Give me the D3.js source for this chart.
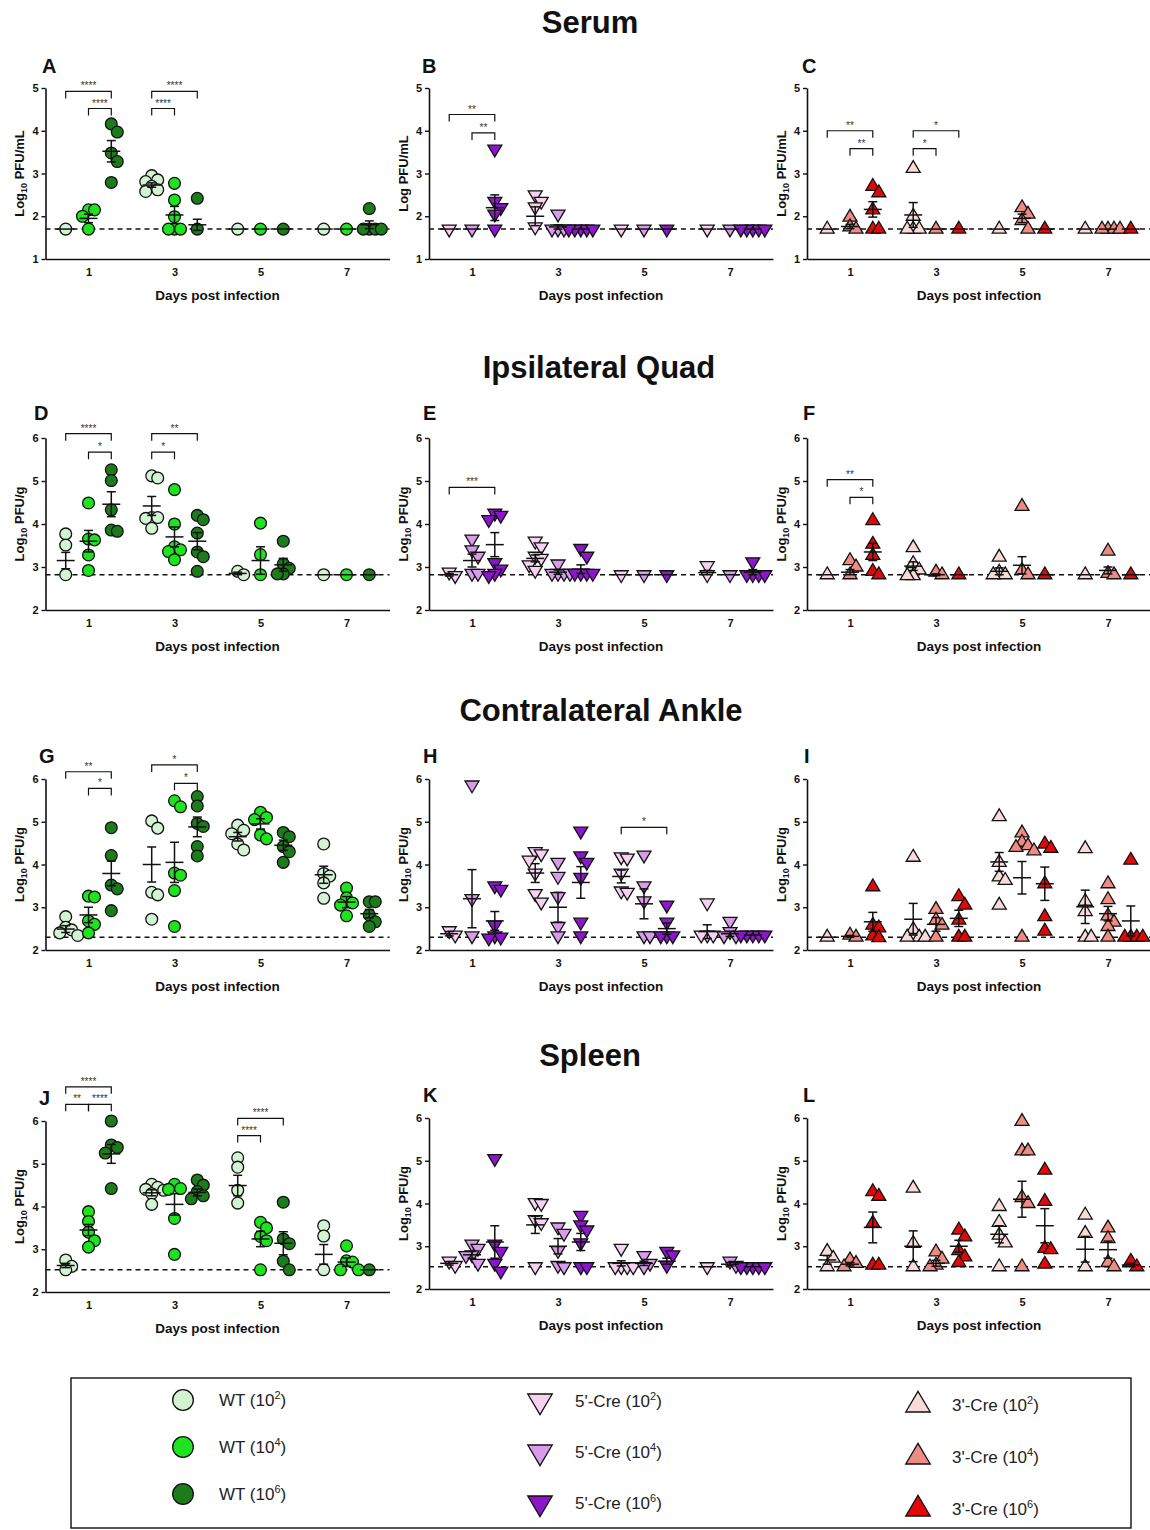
<!DOCTYPE html>
<html>
<head>
<meta charset="utf-8">
<script src="https://cdn.jsdelivr.net/npm/d3@7"></script>
<style>
  body { margin: 0; background: #fff; }
  svg { display: block; font-family: "Liberation Sans", Arial, sans-serif; }
</style>
</head>
<body>
<div id="chart"></div>
<script>
// ---- shared categories ----
const dayTicks = [1, 3, 5, 7];
const doseShift = [-0.53, 0, 0.53];
const doseExp = ["2", "4", "6"];
const wtColors = ["#d3f4d3", "#1fe31f", "#1c7c1c"];
const cre5Colors = ["#f7d2f0", "#d89ceb", "#8c16c9"];
const cre3Colors = ["#f9dada", "#f08b84", "#e00808"];
const sectionTitles = ["Serum", "Ipsilateral Quad", "Contralateral Ankle", "Spleen"];
const lodByRow = [1.7, 2.82, 2.3, 2.52];

// ---- data: each panel = 12 groups (day 1,3,5,7 x dose 10^2,10^4,10^6) ----
// Serum
const ptsA = [[1.7], [2.15, 2.15, 2.0, 1.7], [4.16, 3.97, 3.48, 3.28, 2.79],
  [2.95, 2.85, 2.81, 2.7, 2.62, 2.58], [2.77, 2.38, 1.99, 1.7, 1.7, 1.7], [2.42, 1.7],
  [1.7], [1.7], [1.7],
  [1.7], [1.7], [2.18, 1.7, 1.7, 1.7, 1.7]];
const meanA = [1.7, 1.95, 3.52, 2.73, 2.03, 1.8, 1.7, 1.7, 1.7, 1.7, 1.7, 1.8];
const semA = [0, 0.1, 0.25, 0.05, 0.2, 0.13, 0, 0, 0, 0, 0, 0.09];
const sigA = [[1, 0, 2, 4.92, "****"], [1, 1, 2, 4.52, "****"], [3, 0, 2, 4.92, "****"], [3, 0, 1, 4.52, "****"]];

const ptsB = [[1.7], [1.7], [3.57, 2.35, 2.2, 2.05, 1.7],
  [2.5, 2.35, 2.22, 1.75], [2.05, 1.7, 1.7, 1.7], [1.7, 1.7, 1.7, 1.7, 1.7],
  [1.7], [1.7], [1.7],
  [1.7], [1.7], [1.7, 1.7, 1.7, 1.7, 1.7]];
const meanB = [1.7, 1.7, 2.2, 2.0, 1.75, 1.7, 1.7, 1.7, 1.7, 1.7, 1.7, 1.7];
const semB = [0, 0, 0.3, 0.22, 0.05, 0, 0, 0, 0, 0, 0, 0];
const sigB = [[1, 0, 2, 4.38, "**"], [1, 1, 2, 3.95, "**"]];

const ptsC = [[1.7], [1.98, 1.75, 1.7], [2.7, 2.55, 2.15, 1.7, 1.7],
  [3.12, 2.0, 1.7, 1.7, 1.7], [1.7], [1.7],
  [1.7], [2.2, 2.05, 1.9, 1.7], [1.7],
  [1.7], [1.7, 1.7, 1.7, 1.7], [1.7]];
const meanC = [1.7, 1.76, 2.16, 2.03, 1.7, 1.7, 1.7, 1.95, 1.7, 1.7, 1.7, 1.7];
const semC = [0, 0.05, 0.18, 0.29, 0, 0, 0, 0.1, 0, 0, 0, 0];
const sigC = [[1, 0, 2, 4.0, "**"], [1, 1, 2, 3.58, "**"], [3, 0, 2, 4.0, "*"], [3, 0, 1, 3.58, "*"]];

// Ipsilateral quad
const ptsD = [[3.77, 3.51, 2.82], [4.49, 3.65, 3.63, 3.28, 2.92], [5.26, 5.01, 4.33, 3.86, 3.83],
  [5.12, 5.07, 4.15, 4.15, 4.13, 3.9], [4.8, 4.0, 3.47, 3.4, 3.36, 3.17], [4.2, 4.1, 3.79, 3.35, 3.24, 2.9],
  [2.9, 2.82], [4.02, 3.29, 2.82], [3.6, 3.07, 2.97, 2.84, 2.84],
  [2.82], [2.82], [2.82]];
const meanD = [3.15, 3.6, 4.46, 4.42, 3.7, 3.6, 2.85, 3.15, 3.05, 2.82, 2.82, 2.82];
const semD = [0.19, 0.25, 0.29, 0.22, 0.23, 0.2, 0.03, 0.32, 0.15, 0, 0, 0];
const sigD = [[1, 0, 2, 6.1, "****"], [1, 1, 2, 5.67, "*"], [3, 0, 2, 6.1, "**"], [3, 0, 1, 5.67, "*"]];

const ptsE = [[2.88, 2.8], [3.65, 3.4, 3.25, 2.85, 2.85], [4.25, 4.2, 4.1, 3.1, 2.95, 2.85, 2.8],
  [3.6, 3.47, 3.25, 3.2, 3.05, 2.92], [3.07, 2.85, 2.85, 2.85, 2.85], [3.43, 3.25, 2.85, 2.85, 2.85, 2.85],
  [2.82], [2.82], [2.82],
  [3.03, 2.82], [2.82], [3.12, 2.82, 2.82, 2.82, 2.82]];
const meanE = [2.82, 3.15, 3.52, 3.2, 2.88, 2.95, 2.82, 2.82, 2.82, 2.87, 2.82, 2.88];
const semE = [0.03, 0.15, 0.28, 0.08, 0.05, 0.1, 0, 0, 0, 0.05, 0, 0.06];
const sigE = [[1, 0, 2, 4.85, "***"]];

const ptsF = [[2.82], [3.15, 3.0, 2.82], [4.08, 3.53, 3.27, 2.9, 2.82],
  [3.45, 3.08, 2.93, 2.8, 2.8], [2.88, 2.82], [2.82],
  [3.23, 2.88, 2.82, 2.82], [4.41, 2.92, 2.82], [2.82],
  [2.82], [3.37, 2.85, 2.82], [2.82]];
const meanF = [2.82, 2.88, 3.35, 3.02, 2.82, 2.82, 2.9, 3.04, 2.82, 2.82, 2.92, 2.82];
const semF = [0, 0.06, 0.2, 0.1, 0.02, 0, 0.08, 0.2, 0, 0, 0.08, 0];
const sigF = [[1, 0, 2, 5.03, "**"], [1, 1, 2, 4.62, "*"]];

// Contralateral ankle
const ptsG = [[2.78, 2.53, 2.47, 2.4, 2.34], [3.26, 3.24, 2.68, 2.6, 2.4], [4.86, 4.21, 3.52, 3.43, 2.92],
  [5.02, 4.85, 3.35, 3.29, 2.72], [5.49, 5.35, 3.8, 3.75, 3.39, 2.55], [5.59, 5.37, 4.96, 4.89, 4.42, 4.2],
  [4.92, 4.8, 4.72, 4.48, 4.34], [5.22, 5.1, 5.05, 4.69, 4.6], [4.75, 4.65, 4.42, 4.3, 4.05],
  [4.48, 3.79, 3.73, 3.57, 3.21], [3.45, 3.22, 3.1, 3.05, 2.8], [3.13, 3.13, 2.82, 2.66, 2.55]];
const meanG = [2.49, 2.82, 3.79, 4.0, 4.05, 4.88, 4.65, 4.95, 4.45, 3.76, 3.12, 2.85];
const semG = [0.08, 0.18, 0.29, 0.41, 0.47, 0.23, 0.1, 0.12, 0.12, 0.2, 0.13, 0.1];
const sigG = [[1, 0, 2, 6.17, "**"], [1, 1, 2, 5.78, "*"], [3, 0, 2, 6.33, "*"], [3, 1, 2, 5.9, "*"]];

const ptsH = [[2.45, 2.35], [5.86, 3.2, 2.33], [3.5, 3.42, 2.58, 2.33, 2.3, 2.28],
  [4.3, 4.25, 4.1, 3.8, 3.32, 3.12], [4.05, 3.72, 3.25, 2.55, 2.33], [4.78, 4.2, 4.05, 3.7, 2.65, 2.33],
  [4.18, 4.15, 3.8, 3.38, 3.35], [4.22, 3.5, 3.15, 2.33, 2.33], [3.05, 2.65, 2.33, 2.33, 2.33],
  [3.1, 2.35, 2.35, 2.35], [2.67, 2.43, 2.33, 2.33], [2.35, 2.35, 2.35, 2.35, 2.35]];
const meanH = [2.38, 3.2, 2.68, 3.8, 3.0, 3.58, 3.72, 3.08, 2.5, 2.43, 2.38, 2.35];
const semH = [0.05, 0.68, 0.22, 0.22, 0.35, 0.37, 0.15, 0.35, 0.13, 0.16, 0.06, 0];
const sigH = [[5, 0, 2, 4.87, "*"]];

const ptsI = [[2.3], [2.35, 2.3], [3.48, 2.58, 2.52, 2.33, 2.29],
  [4.17, 2.48, 2.3, 2.3, 2.3], [2.95, 2.7, 2.58, 2.3], [3.25, 3.05, 2.7, 2.3, 2.3],
  [5.12, 4.05, 3.71, 3.63, 3.05], [4.74, 4.52, 4.44, 4.4, 4.32, 2.3], [4.48, 4.38, 3.55, 2.78, 2.44],
  [4.37, 3.14, 2.9, 2.3, 2.3], [3.55, 3.18, 2.8, 2.65, 2.55, 2.3], [4.1, 2.3, 2.3, 2.3, 2.3]];
const meanI = [2.3, 2.32, 2.66, 2.72, 2.6, 2.74, 4.06, 3.69, 3.55, 3.01, 2.85, 2.68];
const semI = [0, 0.02, 0.22, 0.37, 0.16, 0.19, 0.22, 0.38, 0.39, 0.39, 0.17, 0.35];
const sigI = [];

// Spleen
const ptsJ = [[2.75, 2.6, 2.52], [3.88, 3.65, 3.4, 3.2, 3.05], [6.0, 5.44, 5.38, 5.25, 4.42],
  [4.52, 4.45, 4.4, 4.38, 4.3, 4.05], [4.52, 4.42, 4.4, 3.72, 2.88], [4.62, 4.5, 4.35, 4.25, 4.18],
  [5.14, 4.92, 4.38, 4.08], [3.63, 3.5, 3.3, 3.2, 2.52], [4.1, 3.24, 3.13, 2.72, 2.52],
  [3.55, 3.31, 2.52], [3.08, 2.73, 2.7, 2.52, 2.52], [2.52]];
const meanJ = [2.62, 3.45, 5.23, 4.32, 4.05, 4.33, 4.49, 3.24, 3.14, 2.88, 2.7, 2.52];
const semJ = [0.05, 0.13, 0.22, 0.07, 0.25, 0.08, 0.24, 0.18, 0.27, 0.23, 0.1, 0];
const sigJ = [[1, 0, 2, 6.8, "****"], [1, 0, 1, 6.39, "**"], [1, 1, 2, 6.39, "****"],
  [5, 0, 2, 6.06, "****"], [5, 0, 1, 5.66, "****"]];

const ptsK = [[2.65, 2.55], [3.05, 2.95, 2.8, 2.78, 2.6], [5.05, 3.05, 2.88, 2.6, 2.42],
  [4.02, 4.0, 3.62, 3.55, 2.52], [3.45, 3.3, 2.9, 2.55, 2.52], [3.72, 3.5, 3.38, 3.08, 2.52, 2.52],
  [2.95, 2.52, 2.52, 2.52, 2.52], [2.78, 2.6, 2.52], [2.88, 2.8, 2.55],
  [2.52], [2.65, 2.55], [2.52, 2.52, 2.52, 2.52, 2.52]];
const meanK = [2.6, 2.8, 3.1, 3.5, 3.0, 3.1, 2.6, 2.6, 2.65, 2.52, 2.58, 2.52];
const semK = [0.04, 0.08, 0.38, 0.2, 0.18, 0.2, 0.06, 0.05, 0.07, 0, 0.04, 0];
const sigK = [];

const ptsL = [[2.88, 2.72, 2.52], [2.68, 2.6, 2.52], [4.28, 4.17, 3.54, 2.56, 2.56],
  [4.36, 3.07, 2.52], [2.87, 2.7, 2.56, 2.52], [3.38, 3.22, 2.9, 2.75, 2.62],
  [3.93, 3.56, 3.26, 3.08, 2.52], [5.92, 5.23, 5.23, 4.14, 4.0, 2.52], [4.78, 4.05, 2.95, 2.92, 2.58],
  [3.73, 3.3, 2.52], [3.43, 3.18, 2.62, 2.52], [2.65, 2.52]];
const meanL = [2.68, 2.58, 3.44, 3.0, 2.6, 3.0, 3.28, 4.1, 3.48, 2.93, 2.92, 2.56];
const semL = [0.1, 0.04, 0.36, 0.36, 0.07, 0.14, 0.2, 0.42, 0.4, 0.3, 0.2, 0.04];
const sigL = [];

// ---- layout ----
const W = 1150, H = 1530;
const colX = [45.5, 429, 807];
const plotW = 344;
const rowY = [[259, 88], [610, 438], [950, 779], [1292, 1121]];
const titleY = [33, 378, 721, 1066];
const titleX = [590, 599, 601, 590];

const panels = [
  { id: "A", col: 0, row: 0, pts: ptsA, mean: meanA, sem: semA, sig: sigA, shape: "circle", colors: wtColors, unit: "mL", sub: true, lx: 42, ly: 73 },
  { id: "B", col: 1, row: 0, pts: ptsB, mean: meanB, sem: semB, sig: sigB, shape: "down", colors: cre5Colors, unit: "mL", sub: false, lx: 422, ly: 73 },
  { id: "C", col: 2, row: 0, pts: ptsC, mean: meanC, sem: semC, sig: sigC, shape: "up", colors: cre3Colors, unit: "mL", sub: true, lx: 802, ly: 73 },
  { id: "D", col: 0, row: 1, pts: ptsD, mean: meanD, sem: semD, sig: sigD, shape: "circle", colors: wtColors, unit: "g", sub: true, lx: 34, ly: 420 },
  { id: "E", col: 1, row: 1, pts: ptsE, mean: meanE, sem: semE, sig: sigE, shape: "down", colors: cre5Colors, unit: "g", sub: true, lx: 423, ly: 420 },
  { id: "F", col: 2, row: 1, pts: ptsF, mean: meanF, sem: semF, sig: sigF, shape: "up", colors: cre3Colors, unit: "g", sub: true, lx: 803, ly: 420 },
  { id: "G", col: 0, row: 2, pts: ptsG, mean: meanG, sem: semG, sig: sigG, shape: "circle", colors: wtColors, unit: "g", sub: true, lx: 39, ly: 763 },
  { id: "H", col: 1, row: 2, pts: ptsH, mean: meanH, sem: semH, sig: sigH, shape: "down", colors: cre5Colors, unit: "g", sub: true, lx: 423, ly: 763 },
  { id: "I", col: 2, row: 2, pts: ptsI, mean: meanI, sem: semI, sig: sigI, shape: "up", colors: cre3Colors, unit: "g", sub: true, lx: 804, ly: 763 },
  { id: "J", col: 0, row: 3, pts: ptsJ, mean: meanJ, sem: semJ, sig: sigJ, shape: "circle", colors: wtColors, unit: "g", sub: true, lx: 39, ly: 1105 },
  { id: "K", col: 1, row: 3, pts: ptsK, mean: meanK, sem: semK, sig: sigK, shape: "down", colors: cre5Colors, unit: "g", sub: true, lx: 423, ly: 1102, yr: [1289, 1118] },
  { id: "L", col: 2, row: 3, pts: ptsL, mean: meanL, sem: semL, sig: sigL, shape: "up", colors: cre3Colors, unit: "g", sub: true, lx: 803, ly: 1102, yr: [1289, 1118] }
];

const svg = d3.select("#chart").append("svg")
  .attr("width", W)
  .attr("height", H);

svg.append("rect").attr("width", W).attr("height", H).attr("fill", "#fff");

// marker drawing
function triPath(dir, s) {
  // centroid-centred triangle
  const a = 7.8 * s, b = 4.0 * s, w = 7.0 * s;
  return dir === "up"
    ? `M0,${-a}L${w},${b}L${-w},${b}Z`
    : `M0,${a}L${w},${-b}L${-w},${-b}Z`;
}

function drawMarker(g, shape, cx, cy, fill, s) {
  if (shape === "circle") {
    g.append("circle")
      .attr("cx", cx).attr("cy", cy).attr("r", 5.9 * s)
      .attr("fill", fill).attr("stroke", "#111").attr("stroke-width", 1.3);
  } else {
    g.append("path")
      .attr("d", triPath(shape, s))
      .attr("transform", `translate(${cx},${cy})`)
      .attr("fill", fill).attr("stroke", "#111").attr("stroke-width", 1.3)
      .attr("stroke-linejoin", "miter");
  }
}

// simple scatter-dot spreading so that overlapping points sit side by side
function swarm(ys) {
  const step = 6, wx = 6, wy = 9;
  const placed = [];
  const order = ys.map((v, i) => i).sort((a, b) => ys[a] - ys[b]);
  const out = new Array(ys.length);
  order.forEach(i => {
    for (let k = 0; k < 30; k++) {
      const off = k === 0 ? 0 : (k % 2 ? 1 : -1) * Math.ceil(k / 2) * step;
      const hit = placed.some(p => Math.abs(p[0] - off) < wx && Math.abs(p[1] - ys[i]) < wy);
      if (!hit) { placed.push([off, ys[i]]); out[i] = off; break; }
    }
  });
  return out;
}

// section titles
sectionTitles.forEach((t, i) => {
  svg.append("text")
    .attr("x", titleX[i]).attr("y", titleY[i])
    .attr("text-anchor", "middle")
    .attr("font-size", "31px").attr("font-weight", "bold")
    .attr("fill", "#111")
    .text(t);
});

panels.forEach(p => {
  const x0 = colX[p.col];
  const [yb, yt] = p.yr || rowY[p.row];
  const dom = p.row === 0 ? [1, 5] : [2, 6];
  const lod = lodByRow[p.row];

  const x = d3.scaleLinear().domain([0, 8]).range([x0, x0 + plotW]);
  const y = d3.scaleLinear().domain(dom).range([yb, yt]);
  const g = svg.append("g");

  // axes
  const xa = g.append("g")
    .attr("transform", `translate(0,${yb})`)
    .call(d3.axisBottom(x).tickValues(dayTicks).tickSize(0).tickSizeOuter(0).tickPadding(9)
      .tickFormat(d3.format("d")));
  const ya = g.append("g")
    .attr("transform", `translate(${x0},0)`)
    .call(d3.axisLeft(y).tickValues(d3.range(dom[0], dom[1] + 1)).tickSize(4).tickSizeOuter(0).tickPadding(3)
      .tickFormat(d3.format("d")));
  [xa, ya].forEach(a => {
    a.select(".domain").attr("stroke", "#111").attr("stroke-width", 1.6);
    a.selectAll(".tick line").attr("stroke", "#111").attr("stroke-width", 1.4);
    a.selectAll(".tick text")
      .attr("font-family", "Liberation Sans, Arial, sans-serif")
      .attr("font-size", "11px").attr("font-weight", "bold").attr("fill", "#111");
  });

  // axis titles
  g.append("text")
    .attr("x", x0 + 172).attr("y", yb + 41)
    .attr("text-anchor", "middle")
    .attr("font-size", "13.5px").attr("font-weight", "bold").attr("fill", "#111")
    .text("Days post infection");

  const yl = g.append("text")
    .attr("transform", `translate(${x0 - 26},${(yb + yt) / 2}) rotate(-90)`)
    .attr("text-anchor", "middle")
    .attr("dy", "0.35em")
    .attr("font-size", "13px").attr("font-weight", "bold").attr("fill", "#111");
  yl.append("tspan").text("Log");
  if (p.sub) {
    yl.append("tspan").text("10").attr("font-size", "9px").attr("dy", 3);
    yl.append("tspan").text(" PFU/" + p.unit).attr("dy", -3);
  } else {
    yl.append("tspan").text(" PFU/" + p.unit);
  }

  // panel letter
  g.append("text")
    .attr("x", p.lx).attr("y", p.ly)
    .attr("font-size", "20px").attr("font-weight", "bold").attr("fill", "#111")
    .text(p.id);

  // limit of detection
  g.append("line")
    .attr("x1", x0).attr("x2", x0 + plotW)
    .attr("y1", y(lod)).attr("y2", y(lod))
    .attr("stroke", "#111").attr("stroke-width", 1.5)
    .attr("stroke-dasharray", "5,4");

  // points
  const gp = g.append("g");
  p.pts.forEach((vals, i) => {
    const day = dayTicks[Math.floor(i / 3)];
    const dose = i % 3;
    const cx = x(day + doseShift[dose]);
    const ys = vals.map(v => y(v));
    const offs = swarm(ys);
    ys.forEach((cy, j) => drawMarker(gp, p.shape, cx + offs[j], cy, p.colors[dose], 1));
  });

  // mean +/- SEM
  const ge = g.append("g").attr("stroke", "#111").attr("stroke-width", 1.5);
  p.mean.forEach((m, i) => {
    const day = dayTicks[Math.floor(i / 3)];
    const cx = x(day + doseShift[i % 3]);
    const s = p.sem[i];
    ge.append("line").attr("x1", cx - 9).attr("x2", cx + 9).attr("y1", y(m)).attr("y2", y(m));
    if (s > 0) {
      ge.append("line").attr("x1", cx).attr("x2", cx).attr("y1", y(m - s)).attr("y2", y(m + s));
      [m - s, m + s].forEach(v => {
        ge.append("line").attr("x1", cx - 4.5).attr("x2", cx + 4.5).attr("y1", y(v)).attr("y2", y(v));
      });
    }
  });

  // significance brackets
  p.sig.forEach(([day, g1, g2, v, label]) => {
    const xa1 = x(day + doseShift[g1]), xa2 = x(day + doseShift[g2]);
    const by = y(v);
    g.append("path")
      .attr("d", `M${xa1},${by + 7}V${by}H${xa2}V${by + 7}`)
      .attr("fill", "none").attr("stroke", "#111").attr("stroke-width", 1.2);
    g.append("text")
      .attr("x", (xa1 + xa2) / 2).attr("y", by - 2)
      .attr("text-anchor", "middle")
      .attr("font-size", "10px").attr("fill", "#333")
      .text(label);
  });
});

// ---- legend ----
const lg = svg.append("g");
lg.append("rect")
  .attr("x", 71).attr("y", 1378).attr("width", 1060).attr("height", 150)
  .attr("fill", "none").attr("stroke", "#111").attr("stroke-width", 1.4);

const legendCols = [
  { name: "WT", shape: "circle", colors: wtColors, mx: 183, tx: 219, ys: [1400, 1447, 1494] },
  { name: "5'-Cre", shape: "down", colors: cre5Colors, mx: 540, tx: 575, ys: [1401, 1452, 1503] },
  { name: "3'-Cre", shape: "up", colors: cre3Colors, mx: 918, tx: 952, ys: [1405, 1457, 1509] }
];
legendCols.forEach(c => {
  c.ys.forEach((ly, i) => {
    drawMarker(lg, c.shape, c.mx, ly, c.colors[i], 1.75);
    const t = lg.append("text")
      .attr("x", c.tx).attr("y", ly + 6)
      .attr("font-size", "17px").attr("fill", "#222");
    t.append("tspan").text(c.name + " (10");
    t.append("tspan").text(doseExp[i]).attr("font-size", "11px").attr("dy", -7);
    t.append("tspan").text(")").attr("dy", 7);
  });
});
</script>
</body>
</html>
